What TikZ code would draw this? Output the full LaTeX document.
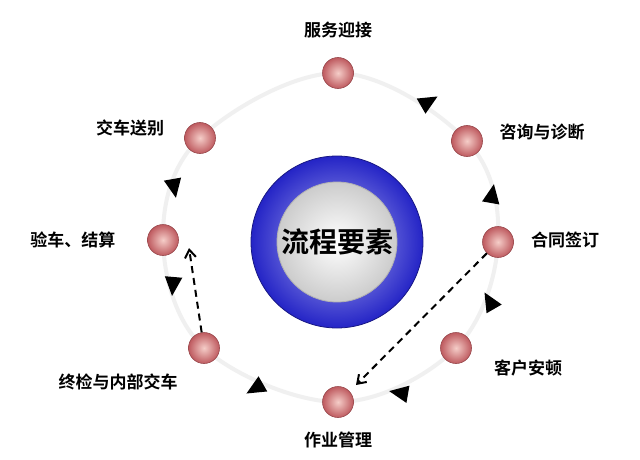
\documentclass[tikz,border=0pt]{standalone}
\usepackage{fontspec}
\newfontfamily\cjk{Noto Sans CJK SC Bold}
\usetikzlibrary{arrows.meta,shapes.geometric}
\definecolor{ballin}{RGB}{245,205,200}
\definecolor{ballout}{RGB}{190,90,95}
\definecolor{ringblue}{RGB}{40,40,220}
\tikzset{
 ball/.style={circle,minimum size=31pt,inner sep=0pt,inner color=ballin,outer color=ballout,draw=ballout!80!black,line width=0.6pt},
 lbl/.style={font=\cjk\fontsize{17}{19}\selectfont,text=black},
 dasharr/.style={dashed,dash pattern=on 7pt off 5pt,line width=2pt,-{Straight Barb[length=8pt,width=11pt]}},
}
\begin{document}
\begin{tikzpicture}[x=1pt,y=-1pt]
\useasboundingbox (0,0) rectangle (640,460);
\fill[white] (0,0) rectangle (640,460);
% ring
\draw[gray!12,line width=4pt] plot[smooth cycle,tension=0.6] coordinates{(338,73)(467,141)(498,242)(456,348)(338,402)(204,348)(163,240)(200,138)};
% balls
\node[ball] (a) at (338,73) {};
\node[ball] (b) at (467,141) {};
\node[ball] (c) at (498,242) {};
\node[ball] (d) at (456,348) {};
\node[ball] (e) at (338,402) {};
\node[ball] (f) at (204,348) {};
\node[ball] (g) at (163,240) {};
\node[ball] (h) at (200,138) {};
% labels
\node[lbl] (la) at (338,30) {服务迎接};
\node[lbl] (lb) at (542,132) {咨询与诊断};
\node[lbl] (lc) at (565,240) {合同签订};
\node[lbl] (ld) at (528,368) {客户安顿};
\node[lbl] (le) at (338,440) {作业管理};
\node[lbl] (lf) at (118,382) {终检与内部交车};
\node[lbl] (lg) at (73,240) {验车、结算};
\node[lbl] (lh) at (130,128) {交车送别};
% triangles
\foreach \p/\r in {{(428,102)}/-30,{(492,195)}/-80,{(490,302)}/-120,{(400,393)}/-170,{(256,388)}/150,{(173,285)}/95,{(174,187)}/80}{
 \fill[black] \p ++(\r:11) -- ++(\r+155:21) -- ++(\r-90:17.5) -- cycle;
}
% dashed
\draw[dasharr] (c) -- (356,385);
\draw[dasharr] (f) -- (189,248);
% center
\shade[inner color=ringblue!35!white,outer color=ringblue!90!black] (337,242) circle (86);
\draw[ringblue!60!black,line width=0.8pt] (337,242) circle (86);
\shade[inner color=white,outer color=gray!40] (337,242) circle (60);
\draw[gray!60,line width=0.8pt] (337,242) circle (60);
\node[font=\cjk\fontsize{28}{32}\selectfont] (t) at (337,242) {流程要素};
\end{tikzpicture}
\end{document}
